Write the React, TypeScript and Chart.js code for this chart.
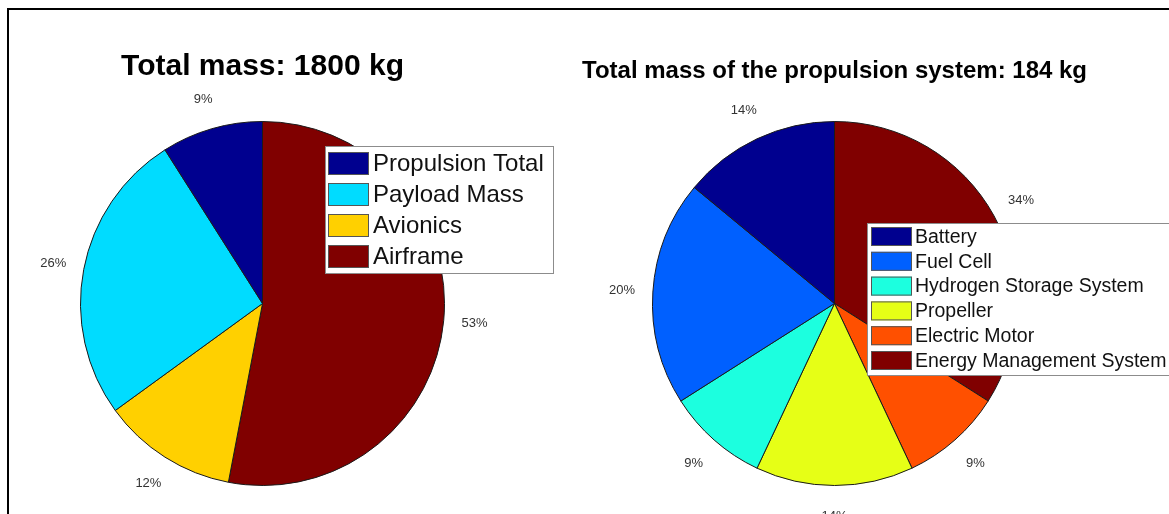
import React, { useEffect, useRef } from "react";
import { Chart, registerables } from "chart.js";

Chart.register(...registerables);

// Overall vehicle mass breakdown (percent of total)
const massCategories = ["Propulsion Total", "Payload Mass", "Avionics", "Airframe"];
const massShares = [9, 26, 12, 53];
const massColors = ["#00008F", "#00DCFF", "#FFD000", "#800000"];
const massTitle = "Total mass: 1800 kg";

// Propulsion system mass breakdown (percent of propulsion mass)
const propulsionCategories = [
  "Battery",
  "Fuel Cell",
  "Hydrogen Storage System",
  "Propeller",
  "Electric Motor",
  "Energy Management System",
];
const propulsionShares = [14, 20, 9, 14, 9, 34];
const propulsionColors = ["#00008F", "#0060FF", "#1CFFDF", "#E6FF16", "#FF5000", "#800000"];
const propulsionTitle = "Total mass of the propulsion system: 184 kg";

const FONT = '"Liberation Sans", Arial, Helvetica, sans-serif';

type LegendLayout = {
  boxX: number;
  boxY: number;
  boxW: number;
  boxH: number;
  swatchX: number;
  swatchY: number;
  swatchW: number;
  swatchH: number;
  pitch: number;
  textX: number;
  fontSize: number;
};

type DecorConfig = {
  title: string;
  titleSize: number;
  titleBaseline: number;
  categories: string[];
  colors: string[];
  legend: LegendLayout;
};

// Slices run counter-clockwise from 12 o'clock, so the drawn order is reversed.
function reversed<T>(arr: T[]): T[] {
  return arr.slice().reverse();
}

function decorPlugin(cfg: DecorConfig) {
  return {
    id: "pieDecor",
    afterDatasetsDraw(chart: any) {
      const ctx: CanvasRenderingContext2D = chart.ctx;
      const meta = chart.getDatasetMeta(0);
      const arcs = meta.data;
      const values: number[] = chart.data.datasets[0].data;
      const total = values.reduce((a, b) => a + b, 0);
      const cx = arcs[0].x;
      const cy = arcs[0].y;
      const r = arcs[0].outerRadius;

      ctx.save();
      // percentage labels around the pie
      ctx.font = `13px ${FONT}`;
      ctx.fillStyle = "#333";
      ctx.textAlign = "center";
      ctx.textBaseline = "middle";
      arcs.forEach((arc: any, i: number) => {
        const mid = (arc.startAngle + arc.endAngle) / 2;
        const x = cx + Math.cos(mid) * r * 1.17;
        const y = cy + Math.sin(mid) * r * 1.17;
        ctx.fillText(`${Math.round((values[i] / total) * 100)}%`, x, y);
      });

      // title
      ctx.font = `bold ${cfg.titleSize}px ${FONT}`;
      ctx.fillStyle = "#000";
      ctx.textBaseline = "alphabetic";
      ctx.fillText(cfg.title, cx, cfg.titleBaseline);

      // legend box
      const L = cfg.legend;
      ctx.fillStyle = "#fff";
      ctx.fillRect(L.boxX, L.boxY, L.boxW, L.boxH);
      ctx.strokeStyle = "#8c8c8c";
      ctx.lineWidth = 1;
      ctx.strokeRect(L.boxX + 0.5, L.boxY + 0.5, L.boxW, L.boxH);
      ctx.font = `${L.fontSize}px ${FONT}`;
      ctx.textAlign = "left";
      ctx.textBaseline = "middle";
      cfg.categories.forEach((name, i) => {
        const y = L.swatchY + i * L.pitch;
        ctx.fillStyle = cfg.colors[i];
        ctx.fillRect(L.swatchX, y, L.swatchW, L.swatchH);
        ctx.strokeStyle = "#555";
        ctx.strokeRect(L.swatchX + 0.5, y + 0.5, L.swatchW - 1, L.swatchH - 1);
        ctx.fillStyle = "#111";
        ctx.fillText(name, L.textX, y + L.swatchH / 2 + 1);
      });
      ctx.restore();
    },
  };
}

function makePie(
  canvas: HTMLCanvasElement,
  shares: number[],
  colors: string[],
  padding: { left: number; right: number; top: number; bottom: number },
  cfg: DecorConfig
) {
  return new Chart(canvas, {
    type: "pie",
    data: {
      labels: reversed(cfg.categories),
      datasets: [
        {
          data: reversed(shares),
          backgroundColor: reversed(colors),
          borderColor: "#1a1a1a",
          borderWidth: 1,
          hoverOffset: 0,
          offset: 0,
        },
      ],
    },
    options: {
      responsive: false,
      animation: false,
      events: [],
      layout: { padding },
      plugins: {
        legend: { display: false },
        tooltip: { enabled: false },
        title: { display: false },
      },
    },
    plugins: [decorPlugin(cfg)],
  } as any);
}

export default function App() {
  const leftRef = useRef<HTMLCanvasElement>(null);
  const rightRef = useRef<HTMLCanvasElement>(null);

  useEffect(() => {
    const left = makePie(
      leftRef.current!,
      massShares,
      massColors,
      { left: 80, right: 139, top: 121, bottom: 28 },
      {
        title: massTitle,
        titleSize: 30,
        titleBaseline: 75,
        categories: massCategories,
        colors: massColors,
        legend: {
          boxX: 325,
          boxY: 146,
          boxW: 228,
          boxH: 127,
          swatchX: 328,
          swatchY: 152,
          swatchW: 41,
          swatchH: 23,
          pitch: 31,
          textX: 373,
          fontSize: 24,
        },
      }
    );
    const right = makePie(
      rightRef.current!,
      propulsionShares,
      propulsionColors,
      { left: 92, right: 152, top: 121, bottom: 28 },
      {
        title: propulsionTitle,
        titleSize: 24,
        titleBaseline: 78,
        categories: propulsionCategories,
        colors: propulsionColors,
        legend: {
          boxX: 307,
          boxY: 223,
          boxW: 320,
          boxH: 152,
          swatchX: 311,
          swatchY: 227,
          swatchW: 41,
          swatchH: 19,
          pitch: 24.8,
          textX: 355,
          fontSize: 19.5,
        },
      }
    );
    return () => {
      left.destroy();
      right.destroy();
    };
  }, []);

  return (
    <div
      style={{
        position: "fixed",
        left: 0,
        top: 0,
        width: 1169,
        height: 514,
        background: "#fff",
        overflow: "hidden",
      }}
    >
      <div
        style={{
          position: "absolute",
          left: 7,
          top: 8,
          width: 1300,
          height: 700,
          borderLeft: "2px solid #000",
          borderTop: "2px solid #000",
        }}
      />
      <canvas
        ref={leftRef}
        width={584}
        height={514}
        style={{ position: "absolute", left: 0, top: 0, width: 584, height: 514 }}
      />
      <canvas
        ref={rightRef}
        width={609}
        height={514}
        style={{ position: "absolute", left: 560, top: 0, width: 609, height: 514 }}
      />
    </div>
  );
}
